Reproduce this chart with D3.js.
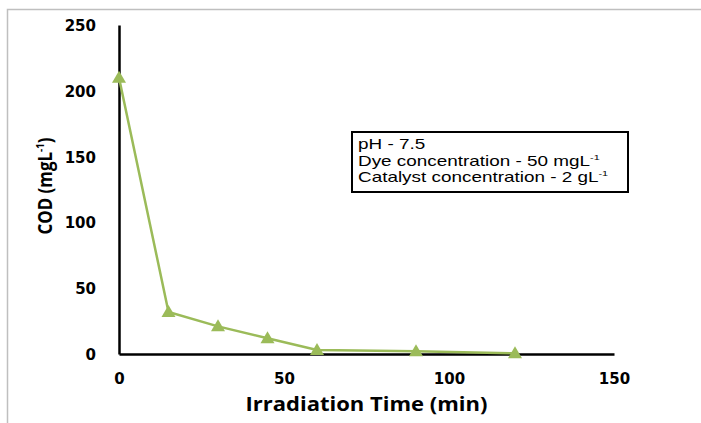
<!DOCTYPE html>
<html>
<head>
<meta charset="utf-8">
<script src="https://cdn.jsdelivr.net/npm/d3@7"></script>
<style>
  body { margin: 0; background: #fff; }
  svg { display: block; }
</style>
</head>
<body>
<div id="chart"></div>
<script>
// irradiation time (min) and COD (mg/L)
var times = [0, 15, 30, 45, 60, 90, 120];
var cod = [210, 32, 21, 12, 3, 2, 0.5];
var xTicks = [0, 50, 100, 150];
var yTicks = [0, 50, 100, 150, 200, 250];
var noteLines = [
  ["pH - 7.5", ""],
  ["Dye concentration - 50 mgL", "-1"],
  ["Catalyst concentration - 2 gL", "-1"]
];

var W = 701, H = 423;
var margin = {top: 25, left: 119, right: 87, bottom: 69};

var svg = d3.select("#chart").append("svg")
  .attr("width", W)
  .attr("height", H);

// outer chart frame (only top/left visible)
svg.append("rect")
  .attr("x", 7.5).attr("y", 9.5)
  .attr("width", 720).attr("height", 440)
  .attr("fill", "none")
  .attr("stroke", "#bfbfbf")
  .attr("stroke-width", 1.5);

var x = d3.scaleLinear().domain([0, 150]).range([margin.left, W - margin.right]);
var y = d3.scaleLinear().domain([0, 250]).range([H - margin.bottom, margin.top]);

var titleFont = "'Open Sans', sans-serif";
var tickFont = "'DejaVu Sans', sans-serif";

// axes
var xAxis = d3.axisBottom(x).tickValues(xTicks).tickSize(0).tickPadding(19);
var yAxis = d3.axisLeft(y).tickValues(yTicks).tickSize(0).tickPadding(23);

var gx = svg.append("g")
  .attr("transform", "translate(0," + y(0) + ")")
  .call(xAxis);
var gy = svg.append("g")
  .attr("transform", "translate(" + x(0) + ",0)")
  .call(yAxis);

[gx, gy].forEach(function(g) {
  g.select(".domain").attr("stroke", "#000").attr("stroke-width", 2.5);
  g.selectAll("text")
    .style("font-family", tickFont)
    .style("font-weight", "bold")
    .style("font-size", "15px")
    .attr("fill", "#000");
});
gy.selectAll("text").attr("dy", "0.36em");

// axis titles
svg.append("text")
  .attr("x", (x(0) + x(150)) / 2)
  .attr("y", 411)
  .attr("text-anchor", "middle")
  .attr("textLength", 242)
  .attr("lengthAdjust", "spacingAndGlyphs")
  .style("font-family", titleFont)
  .style("font-weight", "bold")
  .style("font-size", "19px")
  .text("Irradiation Time (min)");

var yt = svg.append("text")
  .attr("transform", "translate(52,186) rotate(-90)")
  .attr("text-anchor", "middle")
  .attr("textLength", 97)
  .attr("lengthAdjust", "spacingAndGlyphs")
  .style("font-family", titleFont)
  .style("font-weight", "bold")
  .style("font-size", "19px");
yt.append("tspan").text("COD (mgL");
yt.append("tspan").attr("dy", "-8").style("font-size", "11px").text("-1");
yt.append("tspan").attr("dy", "8").text(")");

// series
var pts = times.map(function(t, i) { return [t, cod[i]]; });
var green = "#9bbb59";

svg.append("path")
  .datum(pts)
  .attr("fill", "none")
  .attr("stroke", green)
  .attr("stroke-width", 2.5)
  .attr("d", d3.line().x(function(d) { return x(d[0]); }).y(function(d) { return y(d[1]); }));

svg.selectAll(".mark")
  .data(pts)
  .enter().append("path")
  .attr("class", "mark")
  .attr("fill", green)
  .attr("d", "M0,-7L7,5L-7,5Z")
  .attr("transform", function(d) { return "translate(" + x(d[0]) + "," + y(d[1]) + ")"; });

// note box
var box = {x: 352, y: 132, w: 276, h: 60};
svg.append("rect")
  .attr("x", box.x).attr("y", box.y)
  .attr("width", box.w).attr("height", box.h)
  .attr("fill", "#fff")
  .attr("stroke", "#000")
  .attr("stroke-width", 2);

// text in the source is stretched sideways
var note = svg.append("g")
  .attr("transform", "translate(" + (box.x + 6) + "," + box.y + ") scale(1.35,1)");

noteLines.forEach(function(l, i) {
  var t = note.append("text")
    .attr("x", 0)
    .attr("y", 17 + i * 16.7)
    .style("font-family", "'Liberation Sans', Arial, sans-serif")
    .style("font-size", "14px");
  t.append("tspan").text(l[0]);
  if (l[1]) t.append("tspan").attr("dy", "-6").style("font-size", "8px").text(l[1]);
});
</script>
</body>
</html>
